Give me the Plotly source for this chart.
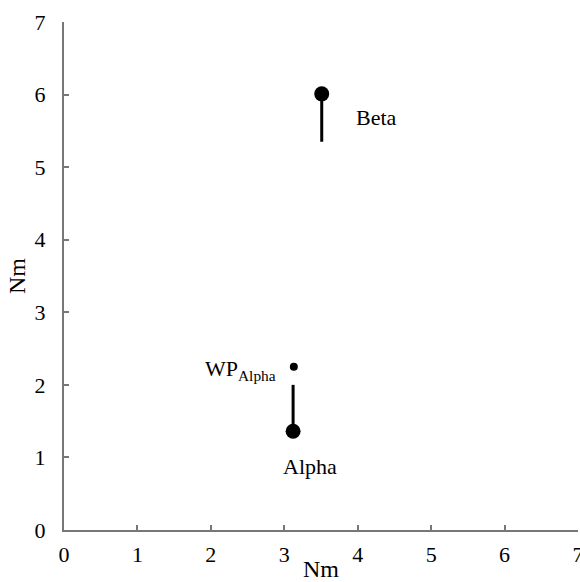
import plotly.graph_objects as go

# Data
names = ["Beta", "Alpha", "WP<sub>Alpha</sub>"]
point_x = [3.51, 3.12, 3.13]
point_y = [6.01, 1.36, 2.25]
point_size = [15, 15, 8]
beta_line_x = [3.51, 3.51]
beta_line_y = [6.01, 5.35]
alpha_line_x = [3.12, 3.12]
alpha_line_y = [1.36, 2.0]
ticks = [0, 1, 2, 3, 4, 5, 6, 7]

font_family = "Liberation Serif, Times New Roman, serif"

fig = go.Figure()
fig.add_trace(go.Scatter(x=beta_line_x, y=beta_line_y, mode="lines",
                         line=dict(color="black", width=3), showlegend=False, hoverinfo="skip"))
fig.add_trace(go.Scatter(x=alpha_line_x, y=alpha_line_y, mode="lines",
                         line=dict(color="black", width=3), showlegend=False, hoverinfo="skip"))
fig.add_trace(go.Scatter(x=point_x, y=point_y, mode="markers",
                         marker=dict(color="black", size=point_size, opacity=1,
                                     line=dict(width=0)),
                         showlegend=False))

ann_font = dict(family=font_family, size=22, color="black")
fig.add_annotation(x=4.26, y=5.69, text=names[0], showarrow=False, font=ann_font)
fig.add_annotation(x=3.35, y=0.88, text=names[1], showarrow=False, font=ann_font)
fig.add_annotation(x=2.91, y=2.2, text=names[2], showarrow=False, xanchor="right", font=ann_font)

axis_common = dict(
    range=[0, 7], tickvals=ticks, ticktext=[str(t) for t in ticks],
    showgrid=False, zeroline=False, showline=True, linecolor="#777777", linewidth=2,
    ticks="inside", ticklen=5, tickwidth=2, tickcolor="#777777",
    tickfont=dict(family=font_family, size=22, color="black"),
    title=dict(text="Nm", font=dict(family=font_family, size=24, color="black")),
    automargin=False, ticklabeloverflow="allow",
)

fig.update_layout(
    width=580, height=582,
    margin=dict(l=64, r=2, t=22, b=52),
    plot_bgcolor="white", paper_bgcolor="white",
    xaxis=dict(**axis_common),
    yaxis=dict(**axis_common),
)
fig.update_xaxes(title_standoff=0, ticklabelstandoff=4)
fig.update_yaxes(title_standoff=2, ticklabelstandoff=12)

# remove the browser's default body margin so the figure fills the window exactly
post = "document.body.style.margin='0';document.body.style.overflow='hidden';"
fig.write_html("out.html", post_script=post, config={"displayModeBar": False})
